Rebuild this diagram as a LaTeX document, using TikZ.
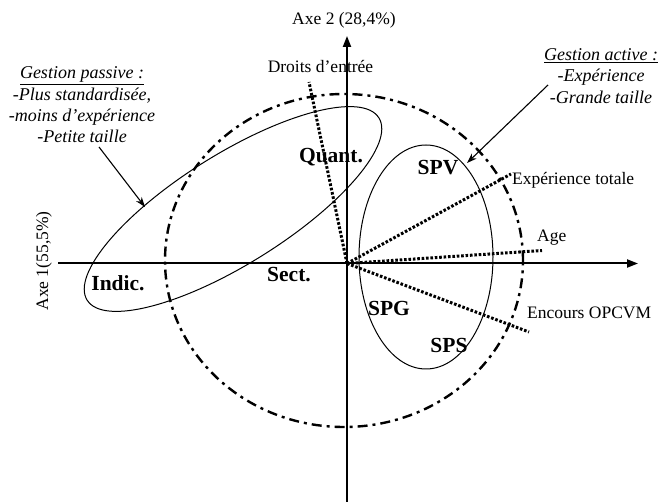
\documentclass[tikz,border=0pt]{standalone}
\usepackage{fontspec}
\setmainfont{Liberation Serif}
\usetikzlibrary{arrows.meta}
\begin{document}
\begin{tikzpicture}[x=1pt,y=-1pt,
  axisline/.style={line width=2pt,-{Triangle[length=11pt,width=8pt]}},
  dotline/.style={line width=3pt,dash pattern=on 2.6pt off 1.8pt},
  dashdot/.style={line width=2.4pt,dash pattern=on 10pt off 5pt on 3pt off 5pt},
  grp/.style={line width=1pt},
  callout/.style={line width=1.1pt,-{Stealth[length=10pt,width=7pt]}},
  lbl/.style={font=\fontsize{17.5}{20}\selectfont,inner sep=0pt},
  cls/.style={font=\fontsize{21.5}{24}\selectfont\bfseries,inner sep=0pt},
  note/.style={font=\fontsize{18}{21.3}\selectfont\itshape,align=center,inner sep=0pt}]
\useasboundingbox (0,0) rectangle (659,502);
% axes
\coordinate (O) at (347,263.5);
\coordinate (xl) at (58,263.5);
\coordinate (xr) at (638,263.5);
\coordinate (yt) at (347,36);
\coordinate (yb) at (347,502);
\draw[line width=2pt] (yb) -- (O);
\draw[axisline] (O) -- (yt);
\draw[line width=2pt] (xl) -- (O);
\draw[axisline] (O) -- (xr);
\node[lbl] (ax2) at (344,20) {Axe 2 (28,4\%)};
\node[lbl,rotate=90] (ax1) at (44,261) {Axe 1(55,5\%)};
% correlation circle
\draw[dashdot] (344,260.5) ellipse [x radius=179pt, y radius=166.5pt];
% group ellipses
\draw[grp,rotate around={32:(233,209)}] (233,209) ellipse [x radius=172pt, y radius=55pt];
\draw[grp] (426,257) ellipse [x radius=67pt, y radius=112pt];
% variable vectors
\coordinate (v1) at (309,82);
\coordinate (v2) at (511,174);
\coordinate (v3) at (542,250.5);
\coordinate (v4) at (529,332);
\draw[dotline] (O) -- (v1);
\draw[dotline] (O) -- (v2);
\draw[dotline] (O) -- (v3);
\draw[dotline] (O) -- (v4);
\node[lbl] (l1) at (320.5,67) {Droits d'entrée};
\node[lbl,anchor=west] (l2) at (512,180) {Expérience totale};
\node[lbl,anchor=west] (l3) at (537,238) {Age};
\node[lbl,anchor=west] (l4) at (527,313) {Encours OPCVM};
% class labels
\node[cls] (quant) at (331,157) {Quant.};
\node[cls] (spv) at (438,168) {SPV};
\node[cls] (indic) at (118,283) {Indic.};
\node[cls] (sect) at (289,275) {Sect.};
\node[cls] (spg) at (389,308) {SPG};
\node[cls] (sps) at (449,345) {SPS};
% notes
\node[note] (passive) at (82,105) {\underline{Gestion passive :}\\-Plus standardisée,\\-moins d'expérience\\-Petite taille};
\node[note] (active) at (601,76) {\underline{Gestion active :}\\-Expérience\\-Grande taille};
\coordinate (ps) at (99,147);
\coordinate (pa) at (145,207);
\coordinate (as) at (548,85);
\coordinate (aa) at (467,163);
\draw[callout] (ps) -- (pa);
\draw[callout] (as) -- (aa);
\end{tikzpicture}
\end{document}
